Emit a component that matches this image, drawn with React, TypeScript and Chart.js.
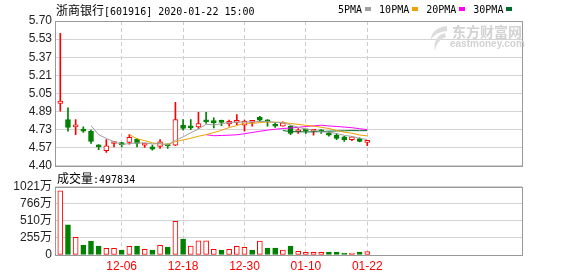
import React, { useEffect, useRef } from "react";
import { Chart, registerables } from "chart.js";
Chart.register(...registerables);

// ---------- data ----------
const dates = [
  "2019-11-26", "2019-11-27", "2019-11-28", "2019-11-29",
  "2019-12-02", "2019-12-03", "2019-12-04", "2019-12-05", "2019-12-06",
  "2019-12-09", "2019-12-10", "2019-12-11", "2019-12-12", "2019-12-13",
  "2019-12-16", "2019-12-17", "2019-12-18", "2019-12-19", "2019-12-20",
  "2019-12-23", "2019-12-24", "2019-12-25", "2019-12-26", "2019-12-27",
  "2019-12-30", "2019-12-31", "2020-01-02", "2020-01-03",
  "2020-01-06", "2020-01-07", "2020-01-08", "2020-01-09", "2020-01-10",
  "2020-01-13", "2020-01-14", "2020-01-15", "2020-01-16", "2020-01-17",
  "2020-01-20", "2020-01-21", "2020-01-22",
];
const opens = [
  4.96, 4.815, 4.75, 4.73, 4.71, 4.575, 4.535, 4.6, 4.595, 4.61,
  4.64, 4.585, 4.57, 4.575, 4.585, 4.585, 4.765, 4.745, 4.75, 4.8,
  4.805, 4.795, 4.775, 4.79, 4.765, 4.79, 4.835, 4.81, 4.76, 4.755,
  4.755, 4.705, 4.72, 4.71, 4.71, 4.695, 4.675, 4.66, 4.635, 4.645,
  4.61,
];
const highs = [
  5.59, 4.92, 4.815, 4.75, 4.72, 4.59, 4.635, 4.62, 4.61, 4.68,
  4.645, 4.6, 4.585, 4.635, 4.595, 4.97, 4.815, 4.815, 4.88, 4.88,
  4.83, 4.81, 4.81, 4.86, 4.81, 4.805, 4.845, 4.815, 4.79, 4.795,
  4.76, 4.735, 4.725, 4.725, 4.725, 4.705, 4.69, 4.665, 4.665, 4.65,
  4.62,
];
const lows = [
  4.89, 4.71, 4.68, 4.7, 4.6, 4.545, 4.52, 4.57, 4.57, 4.595,
  4.57, 4.565, 4.54, 4.555, 4.555, 4.58, 4.72, 4.725, 4.735, 4.78,
  4.74, 4.76, 4.755, 4.77, 4.71, 4.755, 4.8, 4.755, 4.745, 4.755,
  4.68, 4.69, 4.69, 4.675, 4.69, 4.665, 4.635, 4.62, 4.625, 4.615,
  4.58,
];
const closes = [
  4.98, 4.745, 4.75, 4.71, 4.62, 4.57, 4.58, 4.6, 4.59, 4.655,
  4.6, 4.585, 4.55, 4.615, 4.58, 4.815, 4.735, 4.74, 4.78, 4.795,
  4.785, 4.79, 4.8, 4.79, 4.8, 4.79, 4.81, 4.795, 4.755, 4.785,
  4.69, 4.705, 4.715, 4.71, 4.705, 4.675, 4.645, 4.635, 4.66, 4.62,
  4.62,
];
const volumes = [
  9550000, 4480000, 2640000, 1490000, 2090000, 1340000, 1000000, 1000000, 750000, 1300000,
  1340000, 850000, 750000, 1450000, 1190000, 5030000, 2390000, 1340000, 2130000, 2130000,
  850000, 750000, 850000, 1300000, 1150000, 750000, 2090000, 1040000, 1040000, 750000,
  1340000, 550000, 400000, 400000, 400000, 450000, 450000, 300000, 300000, 450000,
  497834,
];
// volume bar colour as seen in the picture: 1 = red (rise), 0 = green (fall)
const volumeRise = [
  1, 0, 1, 0, 0, 0, 1, 1, 0, 1,
  0, 1, 0, 1, 0, 1, 0, 1, 1, 1,
  1, 0, 1, 1, 1, 0, 1, 0, 0, 1,
  0, 1, 1, 1, 1, 0, 0, 0, 1, 0,
  1,
];
const priceTickLabels = ["4.40", "4.57", "4.73", "4.89", "5.05", "5.21", "5.37", "5.53", "5.70"];
const priceMin = 4.4;
const priceMax = 5.7;
const volTickLabels = ["0", "255万", "510万", "766万", "1021万"];
const volMax = 10212000;
const xTickLabels = ["12-06", "12-18", "12-30", "01-10", "01-22"];
const maPeriods = [5, 10, 20, 30];
const maNames = ["5PMA", "10PMA", "20PMA", "30PMA"];
const maColors = ["#a0a0a0", "#f0a000", "#ff00ff", "#006a2e"];
const stockTitleName = "浙商银行";
const stockTitleRest = "[601916] 2020-01-22 15:00";
const volumeLabel = "成交量";

// ---------- styling ----------
const UP = "#ff0000";
const DOWN = "#008000";
const X_MIN = -0.69;
const X_MAX = 60.16;
const tickFont = { family: '"Liberation Sans", Arial, "Noto Sans CJK SC", sans-serif', size: 12 };
const monoFont = '"DejaVu Sans Mono", monospace';
const cjkFont = '"Noto Sans CJK SC", sans-serif';

const isUp = (i: number) => closes[i] >= opens[i];
const strokeColors = closes.map((_, i) => (isUp(i) ? UP : DOWN));
const fillColors = closes.map((_, i) => (isUp(i) ? "#ffffff" : DOWN));
const volStroke = volumeRise.map((r) => (r ? UP : DOWN));
const volFill = volumeRise.map((r) => (r ? "#ffffff" : DOWN));
const xTickIdx = xTickLabels.map((l) => dates.findIndex((d) => d.slice(5) === l));

function movingAverage(n: number) {
  const out: { x: number; y: number }[] = [];
  closes.forEach((_, i) => {
    if (i < n - 1) return;
    let s = 0;
    for (let k = i - n + 1; k <= i; k++) s += closes[k];
    out.push({ x: i, y: s / n });
  });
  return out;
}

const framePlugin = {
  id: "frame",
  afterDraw(chart: any) {
    const { ctx, chartArea: a } = chart;
    ctx.save();
    ctx.strokeStyle = "#999999";
    ctx.lineWidth = 1;
    const l = Math.round(a.left) + 0.5;
    const r = Math.round(a.right) + 0.5;
    const t = Math.round(a.top) + 0.5;
    const b = Math.round(a.bottom) + 0.5;
    ctx.strokeRect(l, t, r - l, b - t);
    ctx.restore();
  },
};

function xScale(showLabels: boolean, height: number) {
  return {
    type: "linear",
    min: X_MIN,
    max: X_MAX,
    offset: false,
    grid: { color: "#cccccc", drawTicks: false, offset: false, lineWidth: 1 },
    border: { display: false, dash: [4, 3] },
    ticks: showLabels
      ? {
          display: true,
          color: "#ff0000",
          font: tickFont,
          padding: 4,
          autoSkip: false,
          maxRotation: 0,
          callback: (_v: any, i: number) => xTickLabels[i],
        }
      : { display: false },
    afterBuildTicks: (s: any) => {
      s.ticks = xTickIdx.map((v) => ({ value: v }));
    },
    afterFit: (s: any) => {
      s.height = height;
    },
  };
}

export default function App() {
  const priceRef = useRef<HTMLCanvasElement>(null);
  const volRef = useRef<HTMLCanvasElement>(null);

  useEffect(() => {
    const maSets = maPeriods.map((p, k) => ({
      type: "line",
      label: maNames[k],
      data: movingAverage(p),
      borderColor: maColors[k],
      backgroundColor: maColors[k],
      borderWidth: 1,
      pointRadius: 0,
      tension: 0,
      fill: false,
      showLine: true,
      order: 0,
    }));
    const price = new Chart(priceRef.current as HTMLCanvasElement, {
      type: "bar",
      data: {
        datasets: [
          ...maSets,
          {
            type: "bar",
            label: "body",
            data: opens.map((o, i) => ({ x: i, y: [o, closes[i]] })),
            backgroundColor: fillColors,
            borderColor: strokeColors,
            borderWidth: 1,
            borderSkipped: false,
            barThickness: 5,
            minBarLength: 2,
            grouped: false,
            order: 1,
          },
          {
            type: "bar",
            label: "wick",
            data: lows.map((l, i) => ({ x: i, y: [l, highs[i]] })),
            backgroundColor: strokeColors,
            borderWidth: 0,
            barThickness: 1,
            grouped: false,
            order: 2,
          },
        ] as any,
      },
      options: {
        responsive: false,
        animation: false,
        events: [],
        layout: { padding: { left: 0, right: 56, top: 21, bottom: 9.5 } },
        plugins: { legend: { display: false }, tooltip: { enabled: false } },
        scales: {
          x: xScale(false, 0) as any,
          y: {
            min: priceMin,
            max: priceMax,
            grid: { color: "#d4d4d4", drawTicks: false },
            border: { display: false },
            ticks: {
              color: "#222222",
              font: tickFont,
              padding: 3,
              autoSkip: false,
              callback: (_v: any, i: number) => priceTickLabels[i],
            },
            afterBuildTicks: (s: any) => {
              const step = (priceMax - priceMin) / (priceTickLabels.length - 1);
              s.ticks = priceTickLabels.map((_, i) => ({ value: priceMin + i * step }));
            },
            afterFit: (s: any) => {
              s.width = 55;
            },
          } as any,
        },
      },
      plugins: [framePlugin],
    });

    const vol = new Chart(volRef.current as HTMLCanvasElement, {
      type: "bar",
      data: {
        datasets: [
          {
            label: "volume",
            data: volumes.map((v, i) => ({ x: i, y: v })),
            backgroundColor: volFill,
            borderColor: volStroke,
            borderWidth: 1,
            borderSkipped: false,
            barThickness: 5,
            grouped: false,
          },
        ] as any,
      },
      options: {
        responsive: false,
        animation: false,
        events: [],
        layout: { padding: { left: 0, right: 56, top: 10.5, bottom: 0 } },
        plugins: { legend: { display: false }, tooltip: { enabled: false } },
        scales: {
          x: xScale(true, 21) as any,
          y: {
            min: 0,
            max: volMax,
            grid: { color: "#d4d4d4", drawTicks: false },
            border: { display: false },
            ticks: {
              color: "#222222",
              font: tickFont,
              padding: 3,
              autoSkip: false,
              callback: (_v: any, i: number) => volTickLabels[i],
            },
            afterBuildTicks: (s: any) => {
              const step = volMax / (volTickLabels.length - 1);
              s.ticks = volTickLabels.map((_, i) => ({ value: i * step }));
            },
            afterFit: (s: any) => {
              s.width = 55;
            },
          } as any,
        },
      },
      plugins: [framePlugin],
    });

    return () => {
      price.destroy();
      vol.destroy();
    };
  }, []);

  return (
    <div
      style={{
        position: "absolute",
        left: 0,
        top: 0,
        width: 578,
        height: 276,
        background: "#ffffff",
        overflow: "hidden",
      }}
    >
      <canvas
        ref={priceRef}
        width={578}
        height={176}
        style={{ position: "absolute", left: 0, top: 0, width: 578, height: 176 }}
      />
      <canvas
        ref={volRef}
        width={578}
        height={100}
        style={{ position: "absolute", left: 0, top: 176, width: 578, height: 100 }}
      />
      {/* title */}
      <div
        style={{
          position: "absolute",
          left: 56,
          top: 3,
          height: 14,
          lineHeight: "14px",
          whiteSpace: "nowrap",
          color: "#000",
        }}
      >
        <span style={{ fontFamily: cjkFont, fontSize: 12 }}>{stockTitleName}</span>
        <span style={{ fontFamily: monoFont, fontSize: 10 }}>{stockTitleRest}</span>
      </div>
      {/* legend */}
      <div
        style={{
          position: "absolute",
          left: 338,
          top: 3,
          height: 12,
          display: "flex",
          alignItems: "center",
          whiteSpace: "nowrap",
          fontFamily: monoFont,
          fontSize: 10,
          color: "#000",
        }}
      >
        {maNames.map((n, k) => (
          <React.Fragment key={n}>
            <span>{n}</span>
            <span
              style={{
                display: "inline-block",
                width: 6,
                height: 4,
                marginLeft: 3,
                marginRight: 8,
                background: maColors[k],
              }}
            />
          </React.Fragment>
        ))}
      </div>
      {/* watermark logo */}
      <svg
        width={22}
        height={28}
        style={{ position: "absolute", left: 427, top: 24 }}
        viewBox="0 0 22 28"
      >
        <path d="M20 2 C10 3 3 9 4 17 C5 12 11 8 20 7 Z" fill="#dcdcdc" />
        <path d="M18 9 C11 11 6 16 8 27 C9 20 13 15 19 13 Z" fill="#dcdcdc" />
      </svg>
      <div
        style={{
          position: "absolute",
          left: 452,
          top: 23,
          fontFamily: cjkFont,
          fontWeight: 700,
          fontSize: 14,
          lineHeight: "16px",
          color: "#d2d2d2",
          whiteSpace: "nowrap",
        }}
      >
        东方财富网
      </div>
      <div
        style={{
          position: "absolute",
          left: 450,
          top: 39,
          fontFamily: '"Liberation Sans", Arial, sans-serif',
          fontWeight: 700,
          fontSize: 10,
          lineHeight: "10px",
          color: "#d2d2d2",
          whiteSpace: "nowrap",
        }}
      >
        eastmoney.com
      </div>
      {/* volume label */}
      <div
        style={{
          position: "absolute",
          left: 57,
          top: 171,
          height: 14,
          lineHeight: "14px",
          whiteSpace: "nowrap",
          color: "#000",
        }}
      >
        <span style={{ fontFamily: cjkFont, fontSize: 12 }}>{volumeLabel}</span>
        <span style={{ fontFamily: monoFont, fontSize: 10 }}>:{volumes[volumes.length - 1]}</span>
      </div>
    </div>
  );
}
